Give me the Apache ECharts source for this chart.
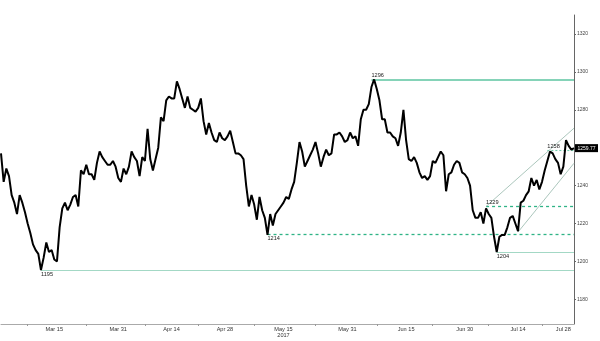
<!DOCTYPE html>
<html><head><meta charset="utf-8">
<script src="https://cdn.jsdelivr.net/npm/echarts@6/dist/echarts.min.js"></script>
<style>html,body{margin:0;padding:0;background:#fff}#c{width:600px;height:341px}</style>
</head><body><div id="c"></div>
<script>
// ---- data (two readings per trading day, Mar 1 – Jul 28 2017) ----
const firstDay = '2017-03-01';
const lastDay = '2017-07-28';
const halves = ['00h', '12h'];

const prices = [
 1257,1242,1249,1245,1235,1231,1225,1235,1231,1226,
 1220,1215,1209,1206,1204,1195.5,1202,1210,1205,1206,
 1201,1200,1218,1228,1231,1227,1230,1234,1235,1229,
 1248,1246,1251,1246,1246,1243,1252,1258,1255,1253,
 1251,1251,1253,1250,1244,1242,1249,1246,1250,1258,
 1255,1253,1245,1255,1253,1270,1254,1248,1254,1260,
 1276,1274,1285,1287,1286,1286,1295,1291,1286,1281,
 1287,1281,1280,1279,1281,1286,1274,1267,1273,1268,
 1264,1263,1268,1265,1264,1266,1269,1263,1257,1257,
 1256,1254,1240,1229,1235,1230,1222,1234,1227,1223,
 1214,1225,1219,1225,1227,1229,1231,1234,1233,1238,
 1242,1252,1263,1258,1250,1253,1256,1259,1263,1257,
 1250,1255,1259,1256,1257,1267,1267,1268,1266,1263,
 1264,1268,1265,1266,1261,1275,1280,1280,1283,1292,
 1296,1291,1285,1275,1275,1268,1268,1266,1265,1261,
 1268,1280,1264,1254,1253,1255,1252,1247,1244,1245,
 1243,1245,1253,1252,1255,1258,1256,1237,1246,1247,
 1251,1253,1252,1247,1246,1244,1240,1227,1223,1223,
 1226,1220,1228,1225,1223,1213,1205,1213,1214,1214,
 1218,1223,1224,1220,1216,1231,1232,1235,1237,1244,
 1240,1243,1238,1242,1248,1253,1258,1257,1254,1252,
 1246,1250,1264,1261,1259,1259.77
];

const xLabelSlots = ['2017-03-15 00h','2017-03-31 00h','2017-04-14 00h','2017-04-28 00h','2017-05-15 00h','2017-05-31 00h','2017-06-15 00h','2017-06-30 00h','2017-07-14 00h','2017-07-28 00h'];
const xLabelTexts = ['Mar 15','Mar 31','Apr 14','Apr 28','May 15\n2017','May 31','Jun 15','Jun 30','Jul 14','Jul 28'];
const xTickSlots = ['2017-03-08 00h','2017-03-23 00h','2017-04-07 00h','2017-04-21 00h','2017-05-05 12h','2017-05-23 00h','2017-06-07 12h','2017-06-22 00h','2017-07-06 12h','2017-07-20 12h'];

const yTickValues = [1180,1200,1220,1240,1260,1280,1300,1320];
const yMin = 1167, yMax = 1330;

// horizontal levels (values as drawn on the reference)
const levelValues = [1295.95, 1195.2, 1214.2, 1229, 1204.7, 1258.5];
const levelTexts  = ['1296','1195','1214','1229','1204','1258'];
const levelStarts = ['2017-06-06 12h','2017-03-10 12h','2017-05-10 00h','2017-07-06 00h','2017-07-10 00h','2017-07-21 12h'];
const levelKinds  = ['solid','pale','dash','dash','pale','dot'];
const levelLabelSides = ['top','bottom','bottom','top','bottom','top'];

// channel lines: start slot/value, end value at last slot
const channelStarts = ['2017-07-06 00h','2017-07-14 00h'];
const channelStartValues = [1229, 1215.5];
const channelEndValues = [1270.3, 1251.8];

// ---- build categories ----
const categories = [];
(function(){
  const d = new Date(firstDay + 'T00:00:00Z');
  const end = new Date(lastDay + 'T00:00:00Z');
  while (d <= end) {
    const wd = d.getUTCDay();
    if (wd !== 0 && wd !== 6) {
      const s = d.toISOString().slice(0,10);
      halves.forEach(h => categories.push(s + ' ' + h));
    }
    d.setUTCDate(d.getUTCDate() + 1);
  }
})();
const lastSlot = categories[categories.length - 1];
const lastPrice = prices[prices.length - 1];

const labelMap = {};
xLabelSlots.forEach((s, i) => labelMap[s] = xLabelTexts[i]);
const tickSet = new Set(xTickSlots);

const FONT = 'Liberation Sans';
const styles = {
  solid: {color:'#5cc4a0', width:1.5, type:'solid'},
  pale:  {color:'#a3d8c5', width:1.1, type:'solid'},
  dash:  {color:'#2fb386', width:1.3, type:[3,3]},
  dot:   {color:'#6fcaaa', width:1.1, type:[2,2]}
};

const markLineData = levelValues.map((v, i) => [
  {coord:[levelStarts[i], v], lineStyle: styles[levelKinds[i]],
   label:{show:true, formatter: levelTexts[i],
          position: levelLabelSides[i] === 'top' ? 'insideStartTop' : 'insideStartBottom',
          distance:[0, 1], color:'#222', fontSize:5.6, fontFamily:FONT}},
  {coord:[lastSlot, v], lineStyle: styles[levelKinds[i]]}
]);
channelStarts.forEach((s, i) => {
  const ls = {color:'#95b8ab', width:0.8, type:'solid'};
  markLineData.push([
    {coord:[s, channelStartValues[i]], lineStyle:ls, label:{show:false}},
    {coord:[lastSlot, channelEndValues[i]], lineStyle:ls}
  ]);
});

const chart = echarts.init(document.getElementById('c'), null, {renderer:'canvas'});
chart.setOption({
  animation:false,
  backgroundColor:'#fff',
  grid:{left:1, right:26, top:15, bottom:17},
  xAxis:{
    type:'category', data:categories, boundaryGap:false,
    axisLine:{lineStyle:{color:'#aaa', width:1}},
    axisTick:{show:true, length:2, lineStyle:{color:'#999'},
      interval:(idx, val) => tickSet.has(val)},
    axisLabel:{
      interval:(idx, val) => labelMap[val] !== undefined,
      formatter:(val) => {
        const t = labelMap[val] || '';
        return val === lastSlot.replace('12h','00h') ? '{r|' + t + '}' : t;
      },
      rich:{r:{padding:[0,16,0,0], fontSize:5.6, fontFamily:FONT, color:'#333'}},
      fontSize:5.6, fontFamily:FONT, color:'#333', margin:2, lineHeight:6.5
    },
    splitLine:{show:false}
  },
  yAxis:{
    type:'value', position:'right', min:yMin, max:yMax,
    axisLine:{show:true, lineStyle:{color:'#666', width:1}},
    axisTick:{show:true, length:2, customValues:yTickValues, lineStyle:{color:'#666'}},
    axisLabel:{customValues:yTickValues, formatter:(v) => String(v), fontSize:5, fontFamily:FONT, color:'#444', margin:3},
    splitLine:{show:false}
  },
  series:[{
    type:'line', data:prices, showSymbol:false, symbol:'none', clip:false,
    lineStyle:{color:'#000', width:2},
    z:3,
    markLine:{symbol:['none','none'], silent:true, animation:false, z:2, data:markLineData},
    markPoint:{
      silent:true, animation:false,
      data:[{coord:[lastSlot, lastPrice], symbol:'rect', symbolSize:[23,8], symbolOffset:[12.5,0],
        itemStyle:{color:'#000'},
        label:{show:true, position:'inside', color:'#fff', fontSize:5, fontFamily:FONT, formatter: lastPrice.toFixed(2)}}]
    }
  }]
});
</script></body></html>
